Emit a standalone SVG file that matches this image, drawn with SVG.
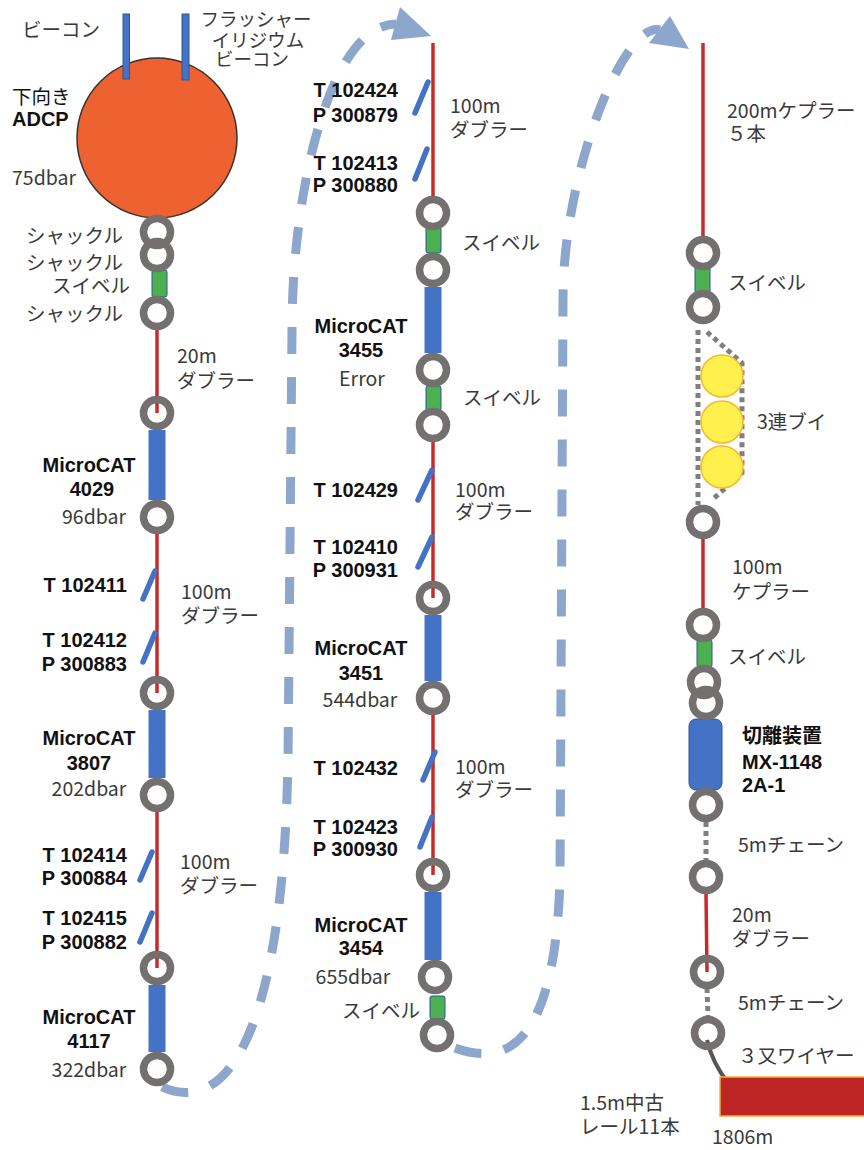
<svg xmlns="http://www.w3.org/2000/svg" width="864" height="1150" viewBox="0 0 864 1150">
  <style>
    .t { font-family: "Noto Sans CJK JP", "Noto Sans", sans-serif; font-size: 19.5px; fill: #3a3a3a; }
    .s { font-size: 18.5px; }
    .b { font-family: "Liberation Sans", "Noto Sans CJK JP", sans-serif; font-size: 20px; font-weight: bold; fill: #111; }
    .bj { font-family: "Noto Sans CJK JP", sans-serif; font-size: 20px; font-weight: bold; fill: #111; }
    .ring { fill: none; stroke: #747070; stroke-width: 7.5; }
    .rope { stroke: #C62B2B; stroke-width: 3.5; fill: none; }
    .cat { fill: #4472C4; }
    .swv { fill: #4CAF50; stroke: #2F5597; stroke-width: 1; }
    .tick { stroke: #4472C4; stroke-width: 5.5; stroke-linecap: round; }
    .dot { stroke: #7F7F7F; stroke-width: 5; stroke-dasharray: 5 4; fill: none; }
    .flow { fill: none; stroke: #8DA6CB; stroke-width: 9; stroke-dasharray: 27 23; }
    .head { fill: #8DA6CB; }
    .buoy { fill: #FFF04D; stroke: #F5B82E; stroke-width: 1.5; }
  </style>

  <!-- flow connectors between the three string segments -->
  <g id="connectors">
    <path class="flow" d="M162,1087 C225,1115 283,1040 288,760 L292,330 C292,190 330,25 396,24"/>
    <polygon class="head" points="400,7 431,36 391,40"/>
    <path class="flow" d="M455,1048 C510,1068 555,1040 560,880 L563,300 C563,170 625,20 660,30"/>
    <polygon class="head" points="670,16 689,49 649,43"/>
  </g>

  <!-- top buoy: downward ADCP with beacons -->
  <g id="adcp">
    <circle cx="157" cy="138" r="80" fill="#EE6232" stroke="#333" stroke-width="1.5"/>
    <rect x="123" y="14" width="6.5" height="65" fill="#4472C4" stroke="#2F5597" stroke-width="1"/>
    <rect x="182" y="14" width="7" height="66" fill="#4472C4" stroke="#2F5597" stroke-width="1"/>
    <text class="t" x="22" y="37">ビーコン</text>
    <text class="t s" x="256" y="26" text-anchor="middle">フラッシャー</text>
    <text class="t s" x="258" y="47" text-anchor="middle">イリジウム</text>
    <text class="t s" x="252" y="66" text-anchor="middle">ビーコン</text>
    <text class="t" x="12" y="104" style="fill:#111">下向き</text>
    <text class="b" x="12" y="126">ADCP</text>
    <text class="t" x="12" y="185">75dbar</text>
  </g>

  <!-- left segment -->
  <g id="left-string">
    <line class="rope" x1="157" y1="330" x2="157" y2="413"/>
    <line class="rope" x1="157" y1="534" x2="157" y2="693"/>
    <line class="rope" x1="157" y1="812" x2="157" y2="968"/>
    <rect class="swv" x="152" y="270" width="15" height="27" rx="2"/>
    <rect class="cat" x="148.5" y="430" width="17" height="70"/>
    <rect class="cat" x="148.5" y="710" width="17" height="68"/>
    <rect class="cat" x="148.5" y="985" width="17" height="67"/>
    <line class="tick" x1="155" y1="571" x2="143" y2="599"/>
    <line class="tick" x1="155" y1="633" x2="143" y2="662"/>
    <line class="tick" x1="152" y1="852" x2="140" y2="880"/>
    <line class="tick" x1="152" y1="913" x2="140" y2="942"/>
    <circle class="ring" cx="157" cy="232" r="13.5"/>
    <circle class="ring" cx="157" cy="255" r="13.5"/>
    <circle class="ring" cx="157" cy="313" r="13.5"/>
    <circle class="ring" cx="157" cy="413" r="13.5"/>
    <circle class="ring" cx="157" cy="517" r="13.5"/>
    <circle class="ring" cx="157" cy="693" r="13.5"/>
    <circle class="ring" cx="157" cy="795" r="13.5"/>
    <circle class="ring" cx="157" cy="968" r="13.5"/>
    <circle class="ring" cx="157" cy="1069" r="13.5"/>

    <text class="t" x="123" y="243" text-anchor="end">シャックル</text>
    <text class="t" x="123" y="270" text-anchor="end">シャックル</text>
    <text class="t" x="130" y="293" text-anchor="end">スイベル</text>
    <text class="t" x="123" y="321" text-anchor="end">シャックル</text>
    <text class="t" x="177" y="363">20m</text>
    <text class="t" x="177" y="388">ダブラー</text>

    <text class="b" x="89" y="472" text-anchor="middle">MicroCAT</text>
    <text class="b" x="92" y="496" text-anchor="middle">4029</text>
    <text class="t" x="94" y="524" text-anchor="middle">96dbar</text>

    <text class="b" x="127" y="592" text-anchor="end">T 102411</text>
    <text class="t" x="181" y="599">100m</text>
    <text class="t" x="181" y="623">ダブラー</text>
    <text class="b" x="127" y="647" text-anchor="end">T 102412</text>
    <text class="b" x="127" y="671" text-anchor="end">P 300883</text>

    <text class="b" x="89" y="745" text-anchor="middle">MicroCAT</text>
    <text class="b" x="89" y="770" text-anchor="middle">3807</text>
    <text class="t" x="89" y="796" text-anchor="middle">202dbar</text>

    <text class="b" x="127" y="862" text-anchor="end">T 102414</text>
    <text class="b" x="127" y="885" text-anchor="end">P 300884</text>
    <text class="t" x="180" y="869">100m</text>
    <text class="t" x="180" y="893">ダブラー</text>
    <text class="b" x="127" y="925" text-anchor="end">T 102415</text>
    <text class="b" x="127" y="949" text-anchor="end">P 300882</text>

    <text class="b" x="89" y="1024" text-anchor="middle">MicroCAT</text>
    <text class="b" x="89" y="1048" text-anchor="middle">4117</text>
    <text class="t" x="89" y="1077" text-anchor="middle">322dbar</text>
  </g>

  <!-- middle segment -->
  <g id="middle-string">
    <line class="rope" x1="433" y1="43" x2="433" y2="197"/>
    <line class="rope" x1="433" y1="442" x2="433" y2="598"/>
    <line class="rope" x1="433" y1="715" x2="433" y2="875"/>
    <rect class="swv" x="426" y="227" width="15" height="26" rx="2"/>
    <rect class="swv" x="426" y="386" width="15" height="25" rx="2"/>
    <rect class="swv" x="430" y="996" width="15" height="23" rx="2"/>
    <rect class="cat" x="424.5" y="287" width="17" height="66"/>
    <rect class="cat" x="424.5" y="615" width="17" height="66"/>
    <rect class="cat" x="424.5" y="892" width="17" height="68"/>
    <line class="tick" x1="428" y1="82" x2="415" y2="113"/>
    <line class="tick" x1="427" y1="149" x2="415" y2="179"/>
    <line class="tick" x1="432" y1="470" x2="418" y2="500"/>
    <line class="tick" x1="432" y1="537" x2="418" y2="567"/>
    <line class="tick" x1="435" y1="752" x2="423" y2="780"/>
    <line class="tick" x1="432" y1="817" x2="420" y2="847"/>
    <circle class="ring" cx="433" cy="213" r="13.5"/>
    <circle class="ring" cx="433" cy="270" r="13.5"/>
    <circle class="ring" cx="433" cy="370" r="13.5"/>
    <circle class="ring" cx="433" cy="425" r="13.5"/>
    <circle class="ring" cx="433" cy="598" r="13.5"/>
    <circle class="ring" cx="433" cy="698" r="13.5"/>
    <circle class="ring" cx="433" cy="875" r="13.5"/>
    <circle class="ring" cx="435" cy="977" r="13.5"/>
    <circle class="ring" cx="437" cy="1035" r="13.5"/>

    <text class="b" x="398" y="97" text-anchor="end">T 102424</text>
    <text class="b" x="398" y="122" text-anchor="end">P 300879</text>
    <text class="t" x="450" y="113">100m</text>
    <text class="t" x="450" y="137">ダブラー</text>
    <text class="b" x="398" y="170" text-anchor="end">T 102413</text>
    <text class="b" x="398" y="192" text-anchor="end">P 300880</text>
    <text class="t" x="462" y="250">スイベル</text>

    <text class="b" x="361" y="333" text-anchor="middle">MicroCAT</text>
    <text class="b" x="361" y="357" text-anchor="middle">3455</text>
    <text class="t" x="362" y="386" text-anchor="middle">Error</text>
    <text class="t" x="463" y="405">スイベル</text>

    <text class="b" x="398" y="497" text-anchor="end">T 102429</text>
    <text class="t" x="455" y="497">100m</text>
    <text class="t" x="455" y="519">ダブラー</text>
    <text class="b" x="398" y="554" text-anchor="end">T 102410</text>
    <text class="b" x="398" y="577" text-anchor="end">P 300931</text>

    <text class="b" x="361" y="655" text-anchor="middle">MicroCAT</text>
    <text class="b" x="361" y="680" text-anchor="middle">3451</text>
    <text class="t" x="360" y="707" text-anchor="middle">544dbar</text>

    <text class="b" x="398" y="775" text-anchor="end">T 102432</text>
    <text class="t" x="455" y="774">100m</text>
    <text class="t" x="455" y="797">ダブラー</text>
    <text class="b" x="398" y="834" text-anchor="end">T 102423</text>
    <text class="b" x="398" y="856" text-anchor="end">P 300930</text>

    <text class="b" x="361" y="932" text-anchor="middle">MicroCAT</text>
    <text class="b" x="361" y="955" text-anchor="middle">3454</text>
    <text class="t" x="353" y="984" text-anchor="middle">655dbar</text>
    <text class="t" x="420" y="1018" text-anchor="end">スイベル</text>
  </g>

  <!-- right segment down to the anchor -->
  <g id="right-string">
    <line class="rope" x1="703" y1="43" x2="703" y2="238"/>
    <line class="rope" x1="703" y1="539" x2="703" y2="610"/>
    <line class="rope" x1="706" y1="894" x2="707" y2="972"/>
    <rect class="swv" x="695" y="265" width="15" height="28" rx="2"/>
    <rect class="swv" x="697" y="640" width="15" height="27" rx="2"/>

    <!-- three-float cluster -->
    <path class="dot" d="M698,330 L698,505 M707,332 L742,363 L742,473 L712,500"/>
    <circle class="buoy" cx="722" cy="376" r="21"/>
    <circle class="buoy" cx="722" cy="422" r="21"/>
    <circle class="buoy" cx="722" cy="467" r="21"/>

    <!-- acoustic release -->
    <rect x="689" y="719" width="33" height="71" rx="7" fill="#4472C4" stroke="#2F5597" stroke-width="1"/>

    <!-- chains -->
    <line class="dot" x1="706" y1="822" x2="706" y2="860"/>
    <line class="dot" x1="707" y1="988" x2="708" y2="1016"/>

    <!-- wire and rail anchor -->
    <path d="M707,1040 Q712,1062 728,1083" fill="none" stroke="#555" stroke-width="4"/>
    <rect x="720" y="1077" width="150" height="39" fill="#BE2626" stroke="#F2B134" stroke-width="1.5"/>

    <circle class="ring" cx="703" cy="253" r="13.5"/>
    <circle class="ring" cx="703" cy="307" r="13.5"/>
    <circle class="ring" cx="703" cy="522" r="13.5"/>
    <circle class="ring" cx="703" cy="625" r="13.5"/>
    <circle class="ring" cx="704" cy="682" r="13.5"/>
    <circle class="ring" cx="706" cy="703" r="13.5"/>
    <circle class="ring" cx="706" cy="805" r="13.5"/>
    <circle class="ring" cx="706" cy="877" r="13.5"/>
    <circle class="ring" cx="707" cy="972" r="13.5"/>
    <circle class="ring" cx="708" cy="1033" r="13.5"/>

    <text class="t" x="727" y="118">200mケプラー</text>
    <text class="t" x="727" y="141">５本</text>
    <text class="t" x="728" y="290">スイベル</text>
    <text class="t" x="757" y="429">3連ブイ</text>
    <text class="t" x="732" y="574">100m</text>
    <text class="t" x="732" y="599">ケプラー</text>
    <text class="t" x="728" y="664">スイベル</text>
    <text class="bj" x="742" y="743">切離装置</text>
    <text class="b" x="742" y="769">MX-1148</text>
    <text class="b" x="742" y="792">2A-1</text>
    <text class="t" x="738" y="852">5mチェーン</text>
    <text class="t" x="732" y="922">20m</text>
    <text class="t" x="732" y="946">ダブラー</text>
    <text class="t" x="738" y="1010">5mチェーン</text>
    <text class="t" x="738" y="1063">３又ワイヤー</text>
    <text class="t" x="580" y="1110">1.5m中古</text>
    <text class="t" x="580" y="1134">レール11本</text>
    <text class="t" x="712" y="1144">1806m</text>
  </g>
</svg>
